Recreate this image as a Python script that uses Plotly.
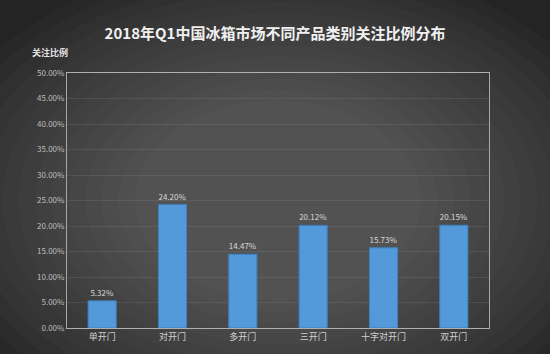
import plotly.graph_objects as go

categories = ["单开门", "对开门", "多开门", "三开门", "十字对开门", "双开门"]
values = [0.0532, 0.2420, 0.1447, 0.2012, 0.1573, 0.2015]
title_text = "2018年Q1中国冰箱市场不同产品类别关注比例分布"
y_title = "关注比例"

FONT = "Noto Sans CJK SC"

fig = go.Figure()
fig.add_trace(go.Bar(
    x=categories, y=values,
    width=0.4,
    marker=dict(color="#5499da", line=dict(color="#3f7fbf", width=1)),
    text=[f"{v*100:.2f}%" for v in values],
    textposition="outside",
    textfont=dict(color="#d8d8d8", size=8, family=FONT),
    cliponaxis=False,
))

# radial-ish background glow
shapes = []
n = 14
for i in range(n):
    f = i / n
    shapes.append(dict(type="circle", xref="paper", yref="paper", layer="below",
                       x0=-0.35 + f * 0.55, x1=1.35 - f * 0.55,
                       y0=-0.45 + f * 0.6, y1=1.45 - f * 0.6,
                       fillcolor="rgba(255,255,255,0.018)", line=dict(width=0)))

fig.update_layout(
    width=550, height=354,
    margin=dict(l=67, r=61, t=73, b=26),
    paper_bgcolor="#242424",
    plot_bgcolor="rgba(0,0,0,0)",
    shapes=shapes,
    showlegend=False,
    title=dict(text="<b>" + title_text + "</b>", x=0.5, xanchor="center", y=0.905, yanchor="middle",
               font=dict(family=FONT, size=15, color="#f0f0f0")),
    font=dict(family=FONT, color="#c8c8c8"),
    xaxis=dict(showgrid=False, showline=True, linecolor="#b0b0b0", linewidth=1, mirror=True,
               ticks="", tickfont=dict(size=9, color="#d0d0d0", family=FONT)),
    yaxis=dict(range=[0, 0.5], dtick=0.05, tickformat=".2%", showgrid=True,
               gridcolor="rgba(255,255,255,0.08)", gridwidth=1,
               showline=True, linecolor="#a8a8a8", linewidth=1, mirror=True,
               zeroline=False, ticks="", ticklen=0,
               tickfont=dict(size=8, color="#bdbdbd", family=FONT)),
    annotations=[dict(text="<b>" + y_title + "</b>", xref="paper", yref="paper",
                      x=-0.04, y=1.08, xanchor="center", yanchor="middle", showarrow=False,
                      font=dict(size=9, color="#e0e0e0", family=FONT))],
)

fig.write_html("out.html")
